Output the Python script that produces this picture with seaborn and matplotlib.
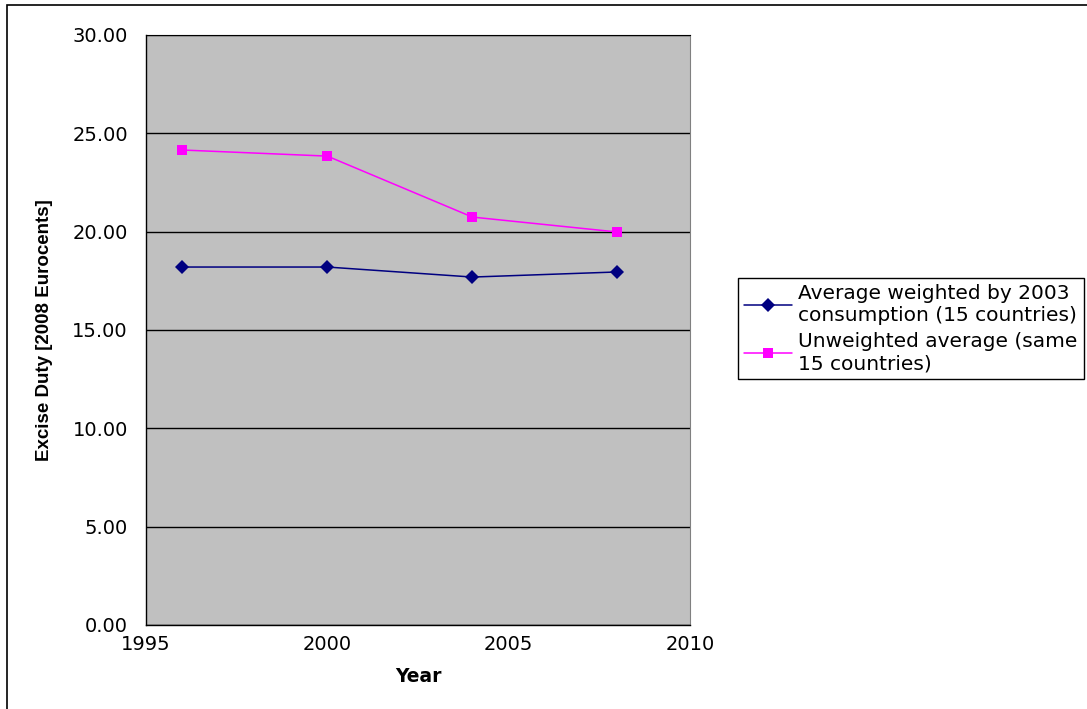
import matplotlib
matplotlib.use("Agg")
import matplotlib.pyplot as plt
import pandas as pd
import seaborn as sns
from matplotlib.patches import Rectangle

# values
years = [1996, 2000, 2004, 2008]
weighted_avg = [18.20, 18.20, 17.69, 17.95]
unweighted_avg = [24.15, 23.84, 20.74, 19.98]
series_names = ["Average weighted by 2003\nconsumption (15 countries)",
                "Unweighted average (same\n15 countries)"]
y_ticks = [0, 5, 10, 15, 20, 25, 30]
x_ticks = [1995, 2000, 2005, 2010]

df = pd.DataFrame({
    "Year": years * 2,
    "Duty": weighted_avg + unweighted_avg,
    "Series": [series_names[0]] * len(years) + [series_names[1]] * len(years),
})

sns.set_style("white")
plt.rcParams['font.family'] = ['DejaVu Sans']
plt.rcParams['text.color'] = 'black'
plt.rcParams['axes.labelcolor'] = 'black'
plt.rcParams['xtick.color'] = 'black'
plt.rcParams['ytick.color'] = 'black'

fig = plt.figure(figsize=(10.87, 7.09), dpi=100)
ax = fig.add_axes([0.1343, 0.1185, 0.5005, 0.8322])
ax.set_facecolor("#C0C0C0")

sns.lineplot(data=df, x="Year", y="Duty", hue="Series", style="Series",
             markers={series_names[0]: "D", series_names[1]: "s"}, dashes=False,
             palette={series_names[0]: "#000080", series_names[1]: "#FF00FF"},
             linewidth=1.1, markersize=7, markeredgewidth=0, ax=ax, legend=True)

ax.set_xlim(1995, 2010)
ax.set_ylim(0, 30)
ax.set_xticks(x_ticks)
ax.set_yticks(y_ticks)
ax.set_yticklabels([f"{v:.2f}" for v in y_ticks])
ax.yaxis.grid(True, color="black", linewidth=1)
ax.xaxis.grid(False)
ax.set_axisbelow(True)
ax.tick_params(axis="both", labelsize=14, length=5, width=1, color="black")
ax.tick_params(axis="x", direction="inout", pad=5)
ax.tick_params(axis="y", direction="out", pad=8)

for side in ["left", "bottom"]:
    ax.spines[side].set_color("black")
    ax.spines[side].set_linewidth(1)
ax.spines["right"].set_color("#808080")
ax.spines["top"].set_color("black")

ax.set_xlabel("Year", fontsize=13.5, fontweight="bold", family="DejaVu Sans", labelpad=9)
ax.set_ylabel("Excise Duty [2008 Eurocents]", fontsize=13.5, fontweight="bold",
              family=["Liberation Sans Narrow", "Liberation Sans"], labelpad=14)

handles, labels = ax.get_legend_handles_labels()
ax.legend(handles, labels, loc="upper left", bbox_to_anchor=(738 / 1087, 1 - 278 / 709),
          bbox_transform=fig.transFigure, fontsize=14.5, frameon=True, fancybox=False,
          edgecolor="black", facecolor="white", framealpha=1, handlelength=2.4,
          handletextpad=0.3, borderpad=0.3, labelspacing=0.35, borderaxespad=0)

# outer chart border
fig.patches.append(Rectangle((7 / 1087, -0.1), 1.2, 1 - 5 / 709 + 0.1,
                             transform=fig.transFigure, fill=False,
                             edgecolor="black", linewidth=1.2))

fig.savefig("out.png", dpi=100)
